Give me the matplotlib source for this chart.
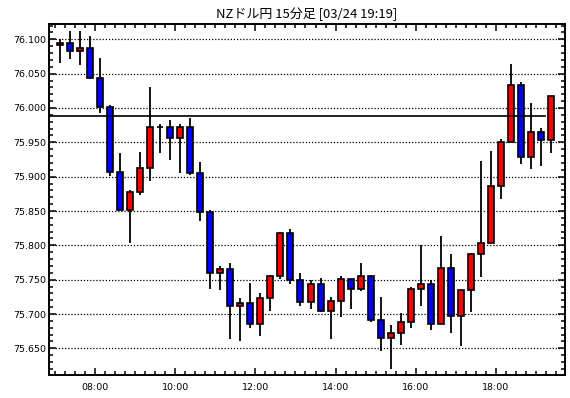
import matplotlib
matplotlib.use("Agg")
import matplotlib.pyplot as plt
from matplotlib.ticker import MultipleLocator, FixedLocator, FuncFormatter
import numpy as np

plt.rcParams['font.family'] = ['DejaVu Sans']

title = "NZドル円 15分足 [03/24 19:19]"

# candle start times (15-minute bars)
times = ["07:00", "07:15", "07:30", "07:45", "08:00", "08:15", "08:30", "08:45",
         "09:00", "09:15", "09:30", "09:45", "10:00", "10:15", "10:30", "10:45",
         "11:00", "11:15", "11:30", "11:45", "12:00", "12:15", "12:30", "12:45",
         "13:00", "13:15", "13:30", "13:45", "14:00", "14:15", "14:30", "14:45",
         "15:00", "15:15", "15:30", "15:45", "16:00", "16:15", "16:30", "16:45",
         "17:00", "17:15", "17:30", "17:45", "18:00", "18:15", "18:30", "18:45",
         "19:00", "19:15"]

opens = [76.091, 76.094, 76.083, 76.088, 76.043, 76.002, 75.907, 75.852,
         75.877, 75.912, 75.973, 75.973, 75.957, 75.973, 75.906, 75.849,
         75.759, 75.765, 75.711, 75.716, 75.686, 75.724, 75.756, 75.818,
         75.749, 75.717, 75.744, 75.705, 75.719, 75.751, 75.737, 75.755,
         75.692, 75.665, 75.672, 75.688, 75.737, 75.743, 75.686, 75.767,
         75.697, 75.735, 75.788, 75.804, 75.887, 75.950, 76.033, 75.929,
         75.965, 75.954]
highs = [76.101, 76.112, 76.112, 76.105, 76.073, 76.004, 75.935, 75.880,
         75.936, 76.030, 75.976, 75.983, 75.976, 75.985, 75.921, 75.851,
         75.770, 75.774, 75.723, 75.745, 75.731, 75.757, 75.820, 75.824,
         75.760, 75.750, 75.752, 75.725, 75.755, 75.751, 75.774, 75.757,
         75.725, 75.684, 75.701, 75.739, 75.800, 75.750, 75.814, 75.788,
         75.735, 75.789, 75.923, 75.938, 75.955, 76.064, 76.038, 76.007,
         75.971, 76.017]
lows = [76.065, 76.072, 76.062, 76.042, 75.992, 75.901, 75.851, 75.804,
        75.874, 75.893, 75.935, 75.924, 75.905, 75.903, 75.836, 75.737,
        75.735, 75.664, 75.660, 75.679, 75.668, 75.705, 75.751, 75.743,
        75.711, 75.708, 75.703, 75.664, 75.696, 75.708, 75.733, 75.689,
        75.646, 75.620, 75.655, 75.679, 75.711, 75.677, 75.686, 75.672,
        75.654, 75.703, 75.754, 75.803, 75.867, 75.950, 75.919, 75.911,
        75.915, 75.935]
closes = [76.094, 76.083, 76.088, 76.043, 76.002, 75.907, 75.852, 75.877,
          75.912, 75.972, 75.973, 75.957, 75.973, 75.906, 75.849, 75.759,
          75.765, 75.711, 75.716, 75.686, 75.724, 75.756, 75.818, 75.749,
          75.717, 75.744, 75.705, 75.719, 75.751, 75.737, 75.755, 75.692,
          75.665, 75.672, 75.688, 75.737, 75.743, 75.686, 75.767, 75.697,
          75.735, 75.788, 75.804, 75.887, 75.950, 76.033, 75.929, 75.965,
          75.954, 76.017]

ref_level = 75.988
ref_end = "19:13"

x_ticks = ["08:00", "10:00", "12:00", "14:00", "16:00", "18:00"]


def to_hours(s):
    h, m = s.split(":")
    return int(h) + int(m) / 60.0


bar_len = 0.25          # hours per candle
body_w = 0.15

fig = plt.figure(figsize=(5.70, 3.98), dpi=100)
ax = fig.add_axes([49 / 570, 1 - 375 / 398, (565 - 49) / 570, (375 - 24) / 398])

x = np.array([to_hours(t) for t in times]) + bar_len / 2
o = np.array(opens); h = np.array(highs); l = np.array(lows); c = np.array(closes)

# wicks
ax.vlines(x, l, h, colors="black", linewidth=1.3, zorder=3)
# bodies
up = c >= o
colors = np.where(up, "#ff0000", "#0000ff")
bottoms = np.minimum(o, c)
heights = np.abs(c - o)
ax.bar(x, heights, width=body_w, bottom=bottoms, color=colors,
       edgecolor="black", linewidth=1.2, zorder=4)

x0 = to_hours("06:51")
x1 = 19.725
ax.set_xlim(x0, x1)
ax.set_ylim(75.6112, 76.1223)

# reference line
ax.plot([x0, to_hours(ref_end)], [ref_level, ref_level], color="black",
        linewidth=1.2, zorder=5)

# grid
ax.yaxis.set_major_locator(MultipleLocator(0.05))
ax.yaxis.set_minor_locator(MultipleLocator(0.01))
ax.yaxis.set_major_formatter(FuncFormatter(lambda v, p: f"{v:.3f}"))
ax.grid(axis="y", which="major", linestyle=(0, (1, 1.5)), color="black",
        linewidth=0.9, zorder=1)

ax.xaxis.set_major_locator(FixedLocator([to_hours(t) for t in x_ticks]))
ax.set_xticklabels(x_ticks)
ax.xaxis.set_minor_locator(MultipleLocator(0.25))

ax.tick_params(axis="both", which="both", direction="in", top=True,
               right=True, labelsize=6.8, color="black", width=1.1)
ax.tick_params(axis="both", which="major", length=5, pad=2)
ax.tick_params(axis="both", which="minor", length=3)
ax.tick_params(axis="x", which="major", pad=6)

for sp in ax.spines.values():
    sp.set_linewidth(1.4)
    sp.set_color("black")

fig.text(307 / 570, 1 - 14 / 398, title, ha="center", va="center",
         fontsize=9.4, family=["Noto Sans CJK JP", "DejaVu Sans"])

fig.savefig("out.png", dpi=100, facecolor="white")
